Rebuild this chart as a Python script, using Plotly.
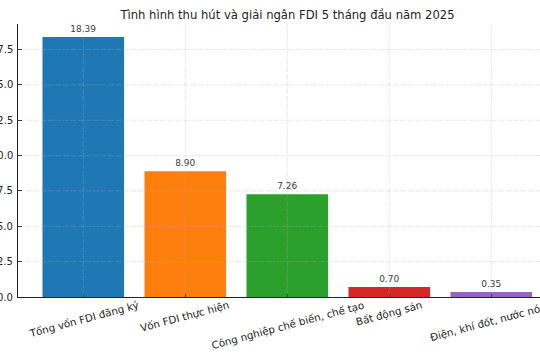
import plotly.graph_objects as go

categories = ["Tổng vốn FDI đăng ký", "Vốn FDI thực hiện", "Công nghiệp chế biến, chế tạo",
              "Bất động sản", "Điện, khí đốt, nước nóng"]
values = [18.39, 8.90, 7.26, 0.70, 0.35]
colors = ["#1f77b4", "#ff7f0e", "#2ca02c", "#d62728", "#9467bd"]
ytick_vals = [0, 2.5, 5.0, 7.5, 10.0, 12.5, 15.0, 17.5]
ytick_text = ["0.0", "2.5", "5.0", "7.5", "10.0", "12.5", "15.0", "17.5"]
title = "Tình hình thu hút và giải ngân FDI 5 tháng đầu năm 2025"

FONT = "DejaVu Sans"
xs = list(range(len(categories)))

W, H = 540, 360
L, T, B = 18, 24, 63

fig = go.Figure()
fig.add_trace(go.Bar(
    x=xs, y=values, marker_color=colors, width=0.8,
    marker_line_width=0,
    text=[f"{v:.2f}" for v in values], textposition="outside",
    textfont=dict(family=FONT, size=9, color="#3a3a3a"),
    cliponaxis=False,
))

ymax = max(values) * 1.05
grid_col = "rgba(170,170,170,0.35)"
grid_dash = "6px,1.5px"
shapes = []
for v in ytick_vals[1:]:
    shapes.append(dict(type="line", xref="paper", yref="y", x0=0, x1=1, y0=v, y1=v,
                       line=dict(color=grid_col, width=0.8, dash=grid_dash), layer="above"))
for x in xs:
    shapes.append(dict(type="line", xref="x", yref="paper", x0=x, x1=x, y0=0, y1=1,
                       line=dict(color=grid_col, width=0.8, dash=grid_dash), layer="above"))

annotations = []
for x, c in zip(xs, categories):
    annotations.append(dict(x=x, y=0, xref="x", yref="paper", text=c, showarrow=False,
                            textangle=-15, xanchor="center", yanchor="top", yshift=1,
                            font=dict(family=FONT, size=10.3, color="#222222")))
for v, t in zip(ytick_vals, ytick_text):
    annotations.append(dict(x=0, y=v, xref="paper", yref="y", text=t, showarrow=False,
                            xanchor="right", yanchor="middle", xshift=-3,
                            font=dict(family=FONT, size=10, color="#222222")))

fig.update_layout(
    width=W, height=H,
    margin=dict(l=L, r=0, t=T, b=B),
    paper_bgcolor="white", plot_bgcolor="white",
    showlegend=False,
    font=dict(family=FONT, size=10, color="#222222"),
    title=dict(text=title, x=287.5 / W, xanchor="center", y=1 - 15 / H, yanchor="middle",
               yref="container", font=dict(family=FONT, size=11.6, color="#222222")),
    shapes=shapes, annotations=annotations,
    bargap=0.2,
)
fig.update_xaxes(range=[-0.64, (W - L) / 102 - 0.64], tickvals=xs, ticktext=[""] * len(xs),
                 showgrid=False, zeroline=False, showline=True, linecolor="#222222", linewidth=1,
                 ticks="inside", ticklen=3.5, tickcolor="#222222")
fig.update_yaxes(range=[0, ymax], tickvals=ytick_vals, ticktext=[""] * len(ytick_vals),
                 automargin=False,
                 showgrid=False, zeroline=False, showline=True, linecolor="#222222", linewidth=1,
                 ticks="inside", ticklen=3.5, tickcolor="#222222")

fig.write_html("out.html", config={"displayModeBar": False},
               post_script="document.body.style.margin='0';")
